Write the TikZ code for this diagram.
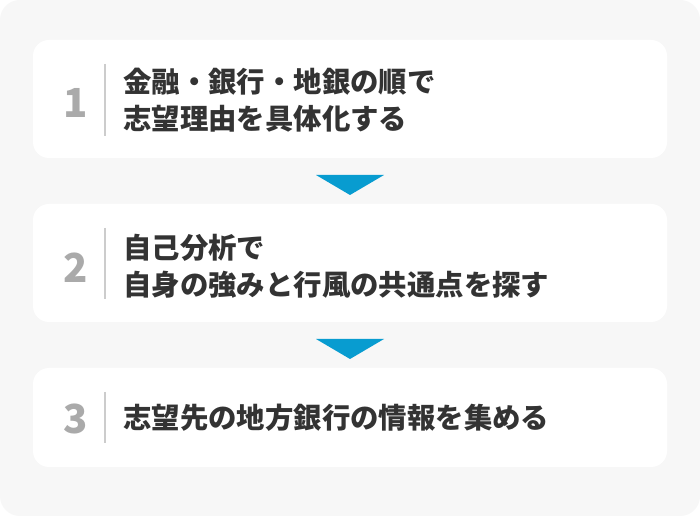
\documentclass[tikz,border=0pt]{standalone}
\usepackage{fontspec}
\newfontfamily\jp{Noto Sans CJK JP}
\definecolor{bggray}{HTML}{F7F7F7}
\definecolor{txt}{HTML}{333333}
\definecolor{numgray}{HTML}{AAAAAA}
\definecolor{divgray}{HTML}{CCCCCC}
\definecolor{arrowblue}{HTML}{089CD0}
\begin{document}
\begin{tikzpicture}[x=0.75pt,y=-0.75pt,
  card/.style={fill=white,rounded corners=12pt},
  num/.style={font=\jp\bfseries\fontsize{30}{30}\selectfont,text=numgray,inner sep=0pt,anchor=center},
  label/.style={font=\jp\bfseries\fontsize{21.3}{27.5}\selectfont,text=txt,inner sep=0pt,anchor=west,align=left},
  divider/.style={draw=divgray,line width=1.5pt},
  tri/.style={fill=arrowblue}]
\useasboundingbox (0,0) rectangle (700,516);
\fill[white] (0,0) rectangle (700,516);
\fill[bggray,rounded corners=15pt] (0,0) rectangle (700,516);
% cards
\fill[card] (33,40) rectangle (667,158);
\fill[card] (33,204) rectangle (667,322);
\fill[card] (33,368) rectangle (667,467);
% numbers
\node[num] (n1) at (76,103) {1};
\node[num] (n2) at (76,268) {2};
\node[num] (n3) at (76,419) {3};
% dividers
\draw[divider] (105,64) -- (105,136);
\draw[divider] (105,228) -- (105,299);
\draw[divider] (105,392) -- (105,443);
% labels
\node[label] (t1) at (123,100) {金融・銀行・地銀の順で\\志望理由を具体化する};
\node[label] (t2) at (123,266) {自己分析で\\自身の強みと行風の共通点を探す};
\node[label] (t3) at (123,418) {志望先の地方銀行の情報を集める};
% arrows
\fill[tri] (316,175) -- (384,175) -- (350,195) -- cycle;
\fill[tri] (316,339) -- (384,339) -- (350,359) -- cycle;
\end{tikzpicture}
\end{document}
